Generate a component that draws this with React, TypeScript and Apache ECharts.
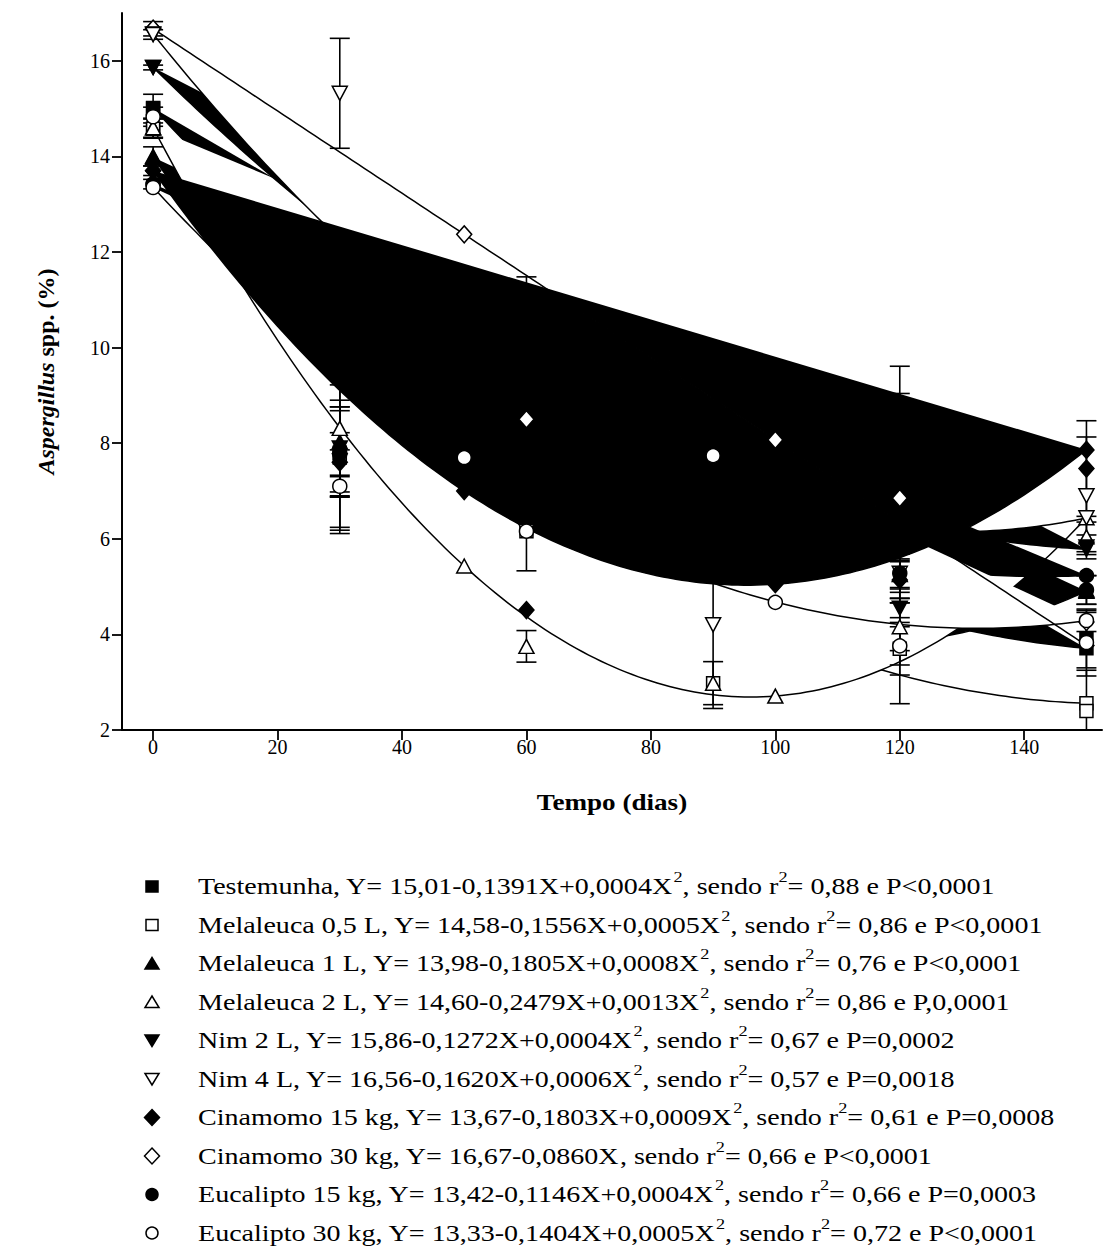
import React, { useEffect, useRef } from "react";
import * as echarts from "echarts";

// ---------- data ----------
const DAYS = [0, 30, 60, 90, 120, 150];
const X_TICKS = [0, 20, 40, 60, 80, 100, 120, 140];
const Y_TICKS = [2, 4, 6, 8, 10, 12, 14, 16];

const TREATMENTS = [
  "Testemunha",
  "Melaleuca 0,5 L",
  "Melaleuca 1 L",
  "Melaleuca 2 L",
  "Nim 2 L",
  "Nim 4 L",
  "Cinamomo 15 kg",
  "Cinamomo 30 kg",
  "Eucalipto 15 kg",
  "Eucalipto 30 kg",
];
const SYMBOL_KIND = ["rect", "rect", "triangle", "triangle", "down", "down", "diamond", "diamond", "circle", "circle"];
const FILLED = [true, false, true, false, true, false, true, false, true, false];

// legend texts
const EQUATIONS = [
  "15,01-0,1391X+0,0004X",
  "14,58-0,1556X+0,0005X",
  "13,98-0,1805X+0,0008X",
  "14,60-0,2479X+0,0013X",
  "15,86-0,1272X+0,0004X",
  "16,56-0,1620X+0,0006X",
  "13,67-0,1803X+0,0009X",
  "16,67-0,0860X",
  "13,42-0,1146X+0,0004X",
  "13,33-0,1404X+0,0005X",
];
const QUADRATIC = [true, true, true, true, true, true, true, false, true, true];
const R2 = ["0,88", "0,86", "0,76", "0,86", "0,67", "0,57", "0,61", "0,66", "0,66", "0,72"];
const PVALUES = ["P<0,0001", "P<0,0001", "P<0,0001", "P,0,0001", "P=0,0002", "P=0,0018", "P=0,0008", "P<0,0001", "P=0,0003", "P<0,0001"];

// fitted curves as they are drawn in the picture (intercept, linear, quadratic)
const CURVE_A = [15.01, 14.58, 13.98, 14.6, 15.86, 16.56, 13.7, 16.67, 13.42, 13.35];
const CURVE_B = [-0.1391, -0.1556, -0.1805, -0.2479, -0.1272, -0.162, -0.1817, -0.086, -0.1146, -0.1393];
const CURVE_C = [0.000425, 0.000503, 0.0008, 0.00129, 0.0004, 0.00063, 0.000952, 0, 0.0004, 0.000526];
// order in which the filled curves were painted
const PAINT_ORDER = [0, 1, 2, 3, 4, 5, 8, 9, 6, 7];
// order in which the symbols were painted
const MARK_ORDER = [7, 0, 1, 2, 3, 4, 5, 6, 8, 9];

// symbols placed on the fitted curves
const CURVE_MARK_X = [
  [0, 150], [0, 150], [0, 150], [0, 50, 100, 150], [0, 150],
  [0, 150], [0, 50, 100, 150], [0, 50, 100, 150], [0, 150], [0, 50, 100, 150],
];
const CURVE_MARK_Y = [
  [15.01, 3.71], [14.58, 2.56], [13.98, 4.9], [14.6, 5.43, 2.71, 6.44], [15.86, 5.78],
  [16.56, 6.44], [13.7, 7.0, 5.05, 7.86], [16.67, 12.37, 8.07, 3.77], [13.42, 5.23], [13.35, 7.7, 4.67, 4.29],
];

// means and error bars at each day
const TEST_MEAN = [15.0, 7.8, 9.0, 6.8, 6.08, 3.9];
const TEST_ERR = [0.3, 1.56, 2.48, 1.5, 3.53, 0.6];
const MEL05_MEAN = [14.58, 7.7, 6.16, 2.98, 3.7, 2.4];
const MEL05_ERR = [0.2, 1.52, 0, 0, 0.55, 0.85];
const MEL1_MEAN = [14.0, 8.03, 7.5, 6.5, 5.25, 4.93];
const MEL1_ERR = [0.2, 0.73, 1.0, 1.0, 0.3, 0.3];
const MEL2_MEAN = [14.6, 8.31, 3.75, 2.98, 4.16, 6.04];
const MEL2_ERR = [0.2, 0.45, 0.33, 0.45, 0.5, 0.31];
const NIM2_MEAN = [15.86, 7.9, 9.5, 7.0, 4.55, 5.83];
const NIM2_ERR = [0.05, 1.0, 1.0, 1.2, 0.2, 0.25];
const NIM4_MEAN = [16.55, 15.32, 6.16, 4.2, 5.28, 6.9];
const NIM4_ERR = [0.1, 1.15, 0, 1.75, 0.3, 1.23];
const CIN15_MEAN = [13.7, 7.6, 4.51, 5.6, 5.14, 7.47];
const CIN15_ERR = [0.1, 0.62, 0, 0.3, 0.38, 1.0];
const CIN30_MEAN = [16.67, 7.78, 8.5, 7.74, 6.85, 4.26];
const CIN30_ERR = [0.15, 0.9, 0.5, 0.3, 2.19, 0.2];
const EUC15_MEAN = [13.42, 7.78, 8.0, 6.4, 5.28, 4.93];
const EUC15_ERR = [0.1, 1.67, 1.0, 1.0, 0.4, 0.3];
const EUC30_MEAN = [14.83, 7.1, 6.16, 7.74, 3.76, 3.83];
const EUC30_ERR = [0.2, 0.23, 0.83, 0.3, 0.4, 0.7];

const MEANS = [TEST_MEAN, MEL05_MEAN, MEL1_MEAN, MEL2_MEAN, NIM2_MEAN, NIM4_MEAN, CIN15_MEAN, CIN30_MEAN, EUC15_MEAN, EUC30_MEAN];
const ERRS = [TEST_ERR, MEL05_ERR, MEL1_ERR, MEL2_ERR, NIM2_ERR, NIM4_ERR, CIN15_ERR, CIN30_ERR, EUC15_ERR, EUC30_ERR];

// ---------- styling ----------
const FONT = "'Liberation Serif', 'Times New Roman', serif";
const DOWN_TRI = "path://M0,0 L20,0 L10,17 Z";
const TEXT_STRETCH = 1.22;
const LEGEND_TOP = 886.5;
const LEGEND_STEP = 38.5;

function symbolFor(kind: string): string {
  if (kind === "down") return DOWN_TRI;
  return kind;
}
function symbolSizeFor(kind: string): number | number[] {
  if (kind === "diamond") return [15, 17];
  if (kind === "rect") return 13;
  if (kind === "triangle") return [15, 14];
  if (kind === "down") return [15, 14];
  return 14;
}

function legendRich(i: number): string {
  let s = "{t|" + TREATMENTS[i] + ", Y= " + EQUATIONS[i] + "}";
  if (QUADRATIC[i]) s += "{s|2}";
  s += "{t|, sendo r}{s|2}{t|= " + R2[i] + " e " + PVALUES[i] + "}";
  return s;
}

function legendIcon(k: number, cx: number, cy: number): any {
  const style = { fill: FILLED[k] ? "#000" : "#fff", stroke: "#000", lineWidth: 1.5 };
  const kind = SYMBOL_KIND[k];
  if (kind === "rect") return { type: "rect", shape: { x: cx - 6, y: cy - 5.5, width: 12, height: 11 }, style };
  if (kind === "circle") return { type: "circle", shape: { cx, cy, r: 6 }, style };
  if (kind === "triangle")
    return { type: "polygon", shape: { points: [[cx - 7, cy + 5.5], [cx + 7, cy + 5.5], [cx, cy - 6]] }, style };
  if (kind === "down")
    return { type: "polygon", shape: { points: [[cx - 7, cy - 5.5], [cx + 7, cy - 5.5], [cx, cy + 6]] }, style };
  return { type: "polygon", shape: { points: [[cx, cy - 8], [cx + 7.5, cy], [cx, cy + 8], [cx - 7.5, cy]] }, style };
}

export default function App() {
  const ref = useRef<HTMLDivElement>(null);

  useEffect(() => {
    if (!ref.current) return;
    const chart = echarts.init(ref.current, undefined, { renderer: "svg" });

    const fitSeries: any[] = PAINT_ORDER.map((k) => ({
      type: "custom",
      name: "fit " + TREATMENTS[k],
      coordinateSystem: "cartesian2d",
      clip: true,
      silent: true,
      z: 2,
      data: [[0, CURVE_A[k]]],
      renderItem: (_p: any, api: any) => {
        const pts: number[][] = [];
        for (let x = 0; x <= 150; x += 1) {
          pts.push(api.coord([x, CURVE_A[k] + CURVE_B[k] * x + CURVE_C[k] * x * x]));
        }
        return {
          type: "group",
          children: [
            { type: "polygon", shape: { points: pts }, style: { fill: FILLED[k] ? "#000" : "#fff", stroke: null } },
            { type: "polyline", shape: { points: pts }, style: { fill: null, stroke: "#000", lineWidth: 1.5 } },
          ],
        };
      },
    }));

    const errSeries: any[] = TREATMENTS.map((n, k) => ({
      type: "custom",
      name: "err " + n,
      coordinateSystem: "cartesian2d",
      clip: true,
      silent: true,
      z: 3,
      data: DAYS.map((d, j) => [d, MEANS[k][j] - ERRS[k][j], MEANS[k][j] + ERRS[k][j], ERRS[k][j]]),
      renderItem: (_p: any, api: any) => {
        if (api.value(3) <= 0) return { type: "group", children: [] };
        const x = api.value(0);
        const lo = api.coord([x, api.value(1)]);
        const hi = api.coord([x, api.value(2)]);
        const w = 10;
        const st = { stroke: "#000", lineWidth: 1.6 };
        return {
          type: "group",
          children: [
            { type: "line", shape: { x1: lo[0], y1: lo[1], x2: hi[0], y2: hi[1] }, style: st },
            { type: "line", shape: { x1: lo[0] - w, y1: lo[1], x2: lo[0] + w, y2: lo[1] }, style: st },
            { type: "line", shape: { x1: hi[0] - w, y1: hi[1], x2: hi[0] + w, y2: hi[1] }, style: st },
          ],
        };
      },
    }));

    const pointSeries: any[] = MARK_ORDER.map((k) => ({
      type: "scatter",
      name: TREATMENTS[k],
      z: 4,
      silent: true,
      symbol: symbolFor(SYMBOL_KIND[k]),
      symbolSize: symbolSizeFor(SYMBOL_KIND[k]),
      itemStyle: { color: FILLED[k] ? "#000" : "#fff", borderColor: "#000", borderWidth: 1.5, opacity: 1 },
      data: [
        ...CURVE_MARK_X[k].map((x, j) => [x, CURVE_MARK_Y[k][j]]),
        ...DAYS.map((d, j) => [d, MEANS[k][j]]),
      ],
    }));

    // legend drawn as graphic rows (icons + texts)
    const legendChildren: any[] = [];
    TREATMENTS.forEach((_n, k) => {
      const cy = LEGEND_TOP + LEGEND_STEP * k;
      legendChildren.push(legendIcon(k, 152, cy));
      legendChildren.push({
        type: "text",
        x: 198,
        y: cy - 2.5,
        scaleX: TEXT_STRETCH,
        style: {
          text: legendRich(k),
          verticalAlign: "middle",
          align: "left",
          fill: "#000",
          rich: {
            t: { fontFamily: FONT, fontSize: 23, lineHeight: 28, verticalAlign: "bottom", fill: "#000" },
            s: { fontFamily: FONT, fontSize: 15, lineHeight: 15, verticalAlign: "top", fill: "#000" },
          },
        },
      });
    });

    chart.setOption({
      animation: false,
      backgroundColor: "#fff",
      grid: { left: 122, top: 13, width: 980, height: 717, containLabel: false },
      xAxis: {
        type: "value",
        min: -5,
        max: 152.5,
        axisLine: { show: true, onZero: false, lineStyle: { color: "#000", width: 2 } },
        axisTick: { show: true, length: 10, lineStyle: { color: "#000", width: 1.8 }, customValues: X_TICKS },
        axisLabel: { color: "#000", fontFamily: FONT, fontSize: 20, margin: 7, customValues: X_TICKS },
        splitLine: { show: false },
      },
      yAxis: {
        type: "value",
        min: 2,
        max: 17,
        name: "{i|Aspergillus}{b| spp. (%)}",
        nameLocation: "middle",
        nameRotate: 90,
        nameGap: 64,
        nameTextStyle: {
          color: "#000",
          rich: {
            i: { fontFamily: FONT, fontSize: 24, fontWeight: "bold", fontStyle: "italic", color: "#000" },
            b: { fontFamily: FONT, fontSize: 24, fontWeight: "bold", color: "#000" },
          },
        },
        axisLine: { show: true, onZero: false, lineStyle: { color: "#000", width: 2 } },
        axisTick: { show: true, length: 10, lineStyle: { color: "#000", width: 1.8 }, customValues: Y_TICKS },
        axisLabel: { color: "#000", fontFamily: FONT, fontSize: 20, margin: 12, customValues: Y_TICKS },
        splitLine: { show: false },
      },
      graphic: [
        {
          type: "text",
          x: 612,
          y: 802,
          scaleX: 1.13,
          style: {
            text: "Tempo (dias)",
            fontFamily: FONT,
            fontSize: 24,
            fontWeight: "bold",
            fill: "#000",
            align: "center",
            verticalAlign: "middle",
          },
        },
        { type: "group", children: legendChildren },
      ],
      series: [...fitSeries, ...errSeries, ...pointSeries],
    });

    return () => chart.dispose();
  }, []);

  return (
    <div
      ref={ref}
      style={{ position: "fixed", left: 0, top: 0, width: 1105, height: 1247, background: "#fff" }}
    />
  );
}
